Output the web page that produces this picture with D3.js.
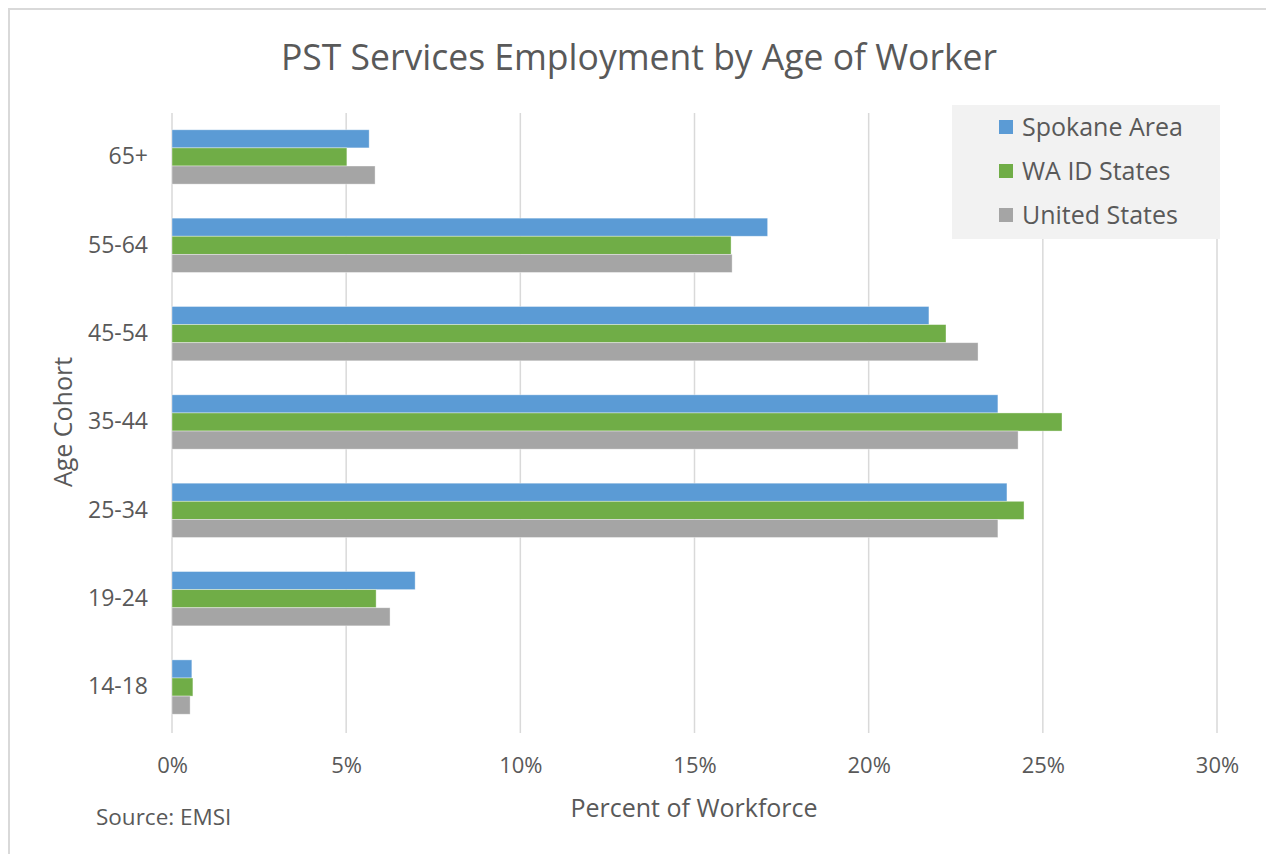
<!DOCTYPE html>
<html>
<head>
<meta charset="utf-8">
<script src="https://cdn.jsdelivr.net/npm/d3@7"></script>
<style>
  html, body { margin: 0; padding: 0; background: #ffffff; }
  svg { display: block; }
  text { font-family: "Open Sans", "Noto Sans", sans-serif; fill: #595959; }
</style>
</head>
<body>
<svg id="chart" width="1266" height="854"></svg>
<script>
// Age cohorts, top to bottom
const cohorts = ["65+", "55-64", "45-54", "35-44", "25-34", "19-24", "14-18"];
const seriesNames = ["Spokane Area", "WA ID States", "United States"];
const seriesColors = ["#5B9BD5", "#70AD47", "#A5A5A5"];

// Share of workforce (%) per cohort
const spokaneArea  = [5.66, 17.1, 21.73, 23.71, 23.97, 6.98, 0.57];
const waIdStates   = [5.02, 16.05, 22.22, 25.55, 24.46, 5.86, 0.60];
const unitedStates = [5.83, 16.08, 23.14, 24.29, 23.71, 6.26, 0.52];

const xTicks = [0, 5, 10, 15, 20, 25, 30];

const seriesValues = [spokaneArea, waIdStates, unitedStates];
const rows = cohorts.map((c, i) => ({
  cohort: c,
  values: seriesNames.map((s, j) => ({ series: s, value: seriesValues[j][i], color: seriesColors[j] }))
}));

const svg = d3.select("#chart");
const fontStack = "'Open Sans', 'Noto Sans', sans-serif";

// Chart frame
svg.append("rect").attr("x", 9).attr("y", 9).attr("width", 1266).attr("height", 854)
  .attr("fill", "#ffffff").attr("stroke", "#d9d9d9").attr("stroke-width", 2);

const plot = { left: 172, right: 1217, top: 113, bottom: 731 };

const x = d3.scaleLinear().domain([0, 30]).range([plot.left, plot.right]);
const y = d3.scaleBand().domain(cohorts).range([plot.top, plot.bottom]).paddingInner(0.385).paddingOuter(0.19);
const ySub = d3.scaleBand().domain(seriesNames).range([0, y.bandwidth()]);

// Vertical gridlines
svg.append("g").selectAll("line").data(xTicks).join("line")
  .attr("x1", d => x(d)).attr("x2", d => x(d))
  .attr("y1", plot.top).attr("y2", plot.bottom + 2)
  .attr("stroke", "#d9d9d9").attr("stroke-width", 1.5);

// Bars
const groups = svg.append("g").selectAll("g").data(rows).join("g")
  .attr("transform", d => `translate(0,${y(d.cohort)})`);
groups.selectAll("rect").data(d => d.values).join("rect")
  .attr("x", x(0))
  .attr("y", d => ySub(d.series))
  .attr("width", d => x(d.value) - x(0))
  .attr("height", ySub.bandwidth())
  .attr("fill", d => d.color)
  .attr("stroke", "#ffffff").attr("stroke-opacity", 0.5).attr("stroke-width", 0.75);

// X axis tick labels
const xAxis = d3.axisBottom(x).tickValues(xTicks).tickFormat(d => d + "%").tickSize(0).tickPadding(0);
const xg = svg.append("g").attr("transform", `translate(0,${plot.bottom + 26})`).call(xAxis);
xg.select(".domain").remove();
xg.selectAll("text").attr("font-size", 22).attr("fill", "#595959").attr("dy", "0.71em")
  .style("font-family", fontStack);

// Y axis category labels
const yAxis = d3.axisLeft(y).tickSize(0).tickPadding(0);
const yg = svg.append("g").attr("transform", `translate(${plot.left - 24},0)`).call(yAxis);
yg.select(".domain").remove();
yg.selectAll("text").attr("font-size", 23).attr("fill", "#595959")
  .style("font-family", fontStack);

// Title
svg.append("text").attr("x", 639).attr("y", 70).attr("text-anchor", "middle")
  .attr("font-size", 36).attr("textLength", 716).attr("lengthAdjust", "spacingAndGlyphs")
  .text("PST Services Employment by Age of Worker");

// Axis titles
svg.append("text").attr("x", 694).attr("y", 817).attr("text-anchor", "middle")
  .attr("font-size", 25).text("Percent of Workforce");
svg.append("text").attr("transform", "translate(72,422) rotate(-90)").attr("text-anchor", "middle")
  .attr("font-size", 25).text("Age Cohort");

// Source note
svg.append("text").attr("x", 96).attr("y", 825).attr("font-size", 22.5).text("Source: EMSI");

// Legend
const legend = svg.append("g");
legend.append("rect").attr("x", 952).attr("y", 105).attr("width", 268).attr("height", 134).attr("fill", "#f2f2f2");
const items = legend.selectAll("g.item").data(seriesNames).join("g").attr("class", "item")
  .attr("transform", (d, i) => `translate(999,${127 + i * 44})`);
items.append("rect").attr("x", 0).attr("y", -7).attr("width", 14).attr("height", 14)
  .attr("fill", (d, i) => seriesColors[i]);
items.append("text").attr("x", 23).attr("y", 0).attr("dy", "0.35em").attr("font-size", 25).text(d => d);
</script>
</body>
</html>
